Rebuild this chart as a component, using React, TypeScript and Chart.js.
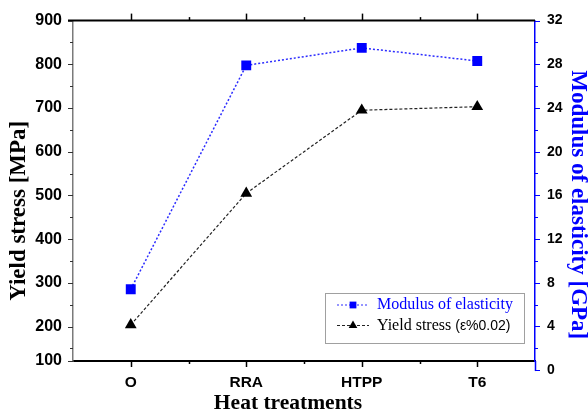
import React, { useEffect, useRef } from 'react';
import { Chart, registerables } from 'chart.js';

Chart.register(...registerables);

// ---- data ----
const CATEGORIES = ['O', 'RRA', 'HTPP', 'T6'];
const MODULUS_GPA = [7.4, 27.9, 29.5, 28.3];
const YIELD_MPA = [204, 505, 695, 703];

// ---- axis ticks ----
const YIELD_TICKS = [100, 200, 300, 400, 500, 600, 700, 800, 900];
const MODULUS_TICKS = [0, 4, 8, 12, 16, 20, 24, 28, 32];
// the horizontal axis crosses the vertical axes slightly above their zero/100 marks
const YIELD_AXIS_BOTTOM = 121.3;
const YIELD_AXIS_TOP = 900;
const MODULUS_AXIS_BOTTOM = 0.83;
const MODULUS_AXIS_TOP = 32;

const MODULUS_LABEL = 'Modulus of elasticity';
const YIELD_LABEL = 'Yield stress (ε%0.02)';
const X_TITLE = 'Heat treatments';
const Y_TITLE = 'Yield stress [MPa]';
const Y1_TITLE = 'Modulus of elasticity [GPa]';

const BLUE = '#0000ff';
const SANS = '"Liberation Sans", Arial, sans-serif';
const SERIF = '"Liberation Serif", "Times New Roman", serif';

function seg(ctx: CanvasRenderingContext2D, x1: number, y1: number, x2: number, y2: number) {
  ctx.beginPath();
  ctx.moveTo(x1, y1);
  ctx.lineTo(x2, y2);
  ctx.stroke();
}

function drawMarker(ctx: CanvasRenderingContext2D, style: string, cx: number, cy: number, r: number, color: string) {
  ctx.fillStyle = color;
  ctx.beginPath();
  if (style === 'triangle') {
    ctx.moveTo(cx, cy - r);
    ctx.lineTo(cx + r * 0.866, cy + r * 0.5);
    ctx.lineTo(cx - r * 0.866, cy + r * 0.5);
    ctx.closePath();
  } else {
    const s = r * Math.SQRT1_2;
    ctx.rect(cx - s, cy - s, 2 * s, 2 * s);
  }
  ctx.fill();
}

const framePlugin = {
  id: 'frameDecor',
  afterDraw(chart: any) {
    const { ctx, chartArea: ca, scales } = chart;
    const xs = scales.x;
    const ys = scales.y;
    const y1s = scales.y1;
    ctx.save();

    // top frame line
    ctx.strokeStyle = '#000';
    ctx.lineWidth = 2;
    seg(ctx, ca.left - 5, ca.top, ca.right, ca.top);

    // category ticks (bottom and top)
    ctx.lineWidth = 1.5;
    const n = CATEGORIES.length;
    for (let i = 0; i < n; i++) {
      const px = Math.round(xs.getPixelForValue(i)) + 0.5;
      seg(ctx, px, ca.bottom, px, ca.bottom + 6);
      seg(ctx, px, ca.top, px, ca.top - 7);
    }
    for (let i = 1; i < n; i++) {
      const px = Math.round((xs.getPixelForValue(i - 1) + xs.getPixelForValue(i)) / 2) + 0.5;
      seg(ctx, px, ca.bottom, px, ca.bottom + 3);
      seg(ctx, px, ca.top, px, ca.top - 3.5);
    }

    // left axis ticks
    ctx.strokeStyle = '#333';
    ctx.lineWidth = 1;
    YIELD_TICKS.forEach((v) => {
      const py = Math.round(ys.getPixelForValue(Math.max(v, ys.min))) + 0.5;
      seg(ctx, ca.left - 5, py, ca.left, py);
    });
    for (let k = 0; k < YIELD_TICKS.length - 1; k++) {
      const mid = (YIELD_TICKS[k] + YIELD_TICKS[k + 1]) / 2;
      const py = Math.round(ys.getPixelForValue(mid)) + 0.5;
      seg(ctx, ca.left - 3, py, ca.left, py);
    }

    // right axis: extension down to its zero mark, ticks
    ctx.strokeStyle = BLUE;
    ctx.lineWidth = 1.5;
    const zeroPx = y1s.getPixelForValue(MODULUS_TICKS[0]);
    seg(ctx, ca.right + 0.5, ca.bottom, ca.right + 0.5, zeroPx + 1);
    ctx.lineWidth = 1;
    MODULUS_TICKS.forEach((v) => {
      const py = Math.round(y1s.getPixelForValue(v)) + 0.5;
      seg(ctx, ca.right, py, ca.right + 5, py);
    });
    for (let k = 0; k < MODULUS_TICKS.length - 1; k++) {
      const mid = (MODULUS_TICKS[k] + MODULUS_TICKS[k + 1]) / 2;
      const py = Math.round(y1s.getPixelForValue(mid)) + 0.5;
      seg(ctx, ca.right, py, ca.right + 3, py);
    }

    // legend box
    const boxR = ca.right - 11;
    const boxB = ca.bottom - 18;
    const boxW = 199;
    const boxH = 50;
    const boxL = boxR - boxW;
    const boxT = boxB - boxH;
    ctx.fillStyle = '#fff';
    ctx.fillRect(boxL, boxT, boxW, boxH);
    ctx.strokeStyle = '#a0a0a0';
    ctx.lineWidth = 1;
    ctx.strokeRect(Math.round(boxL) + 0.5, Math.round(boxT) + 0.5, boxW, boxH);

    chart.data.datasets.forEach((ds: any, i: number) => {
      const cy = boxT + 12 + i * 20.5;
      const lx1 = boxL + 12;
      const lx2 = boxL + 44;
      ctx.strokeStyle = ds.borderColor;
      ctx.lineWidth = 1;
      ctx.setLineDash(ds.borderDash || []);
      seg(ctx, lx1, cy, lx2, cy);
      ctx.setLineDash([]);
      drawMarker(ctx, ds.pointStyle, (lx1 + lx2) / 2, cy, ds.pointStyle === 'triangle' ? 5 : 4.8, ds.pointBackgroundColor);
      const label: string = ds.label;
      const tx = boxL + 52;
      ctx.textBaseline = 'middle';
      ctx.textAlign = 'left';
      ctx.fillStyle = ds.legendTextColor || '#000';
      const cut = label.indexOf('(');
      const main = cut >= 0 ? label.slice(0, cut) : label;
      ctx.font = `16px ${SERIF}`;
      ctx.fillText(main, tx, cy);
      if (cut >= 0) {
        const w = ctx.measureText(main).width;
        ctx.font = `14px ${SANS}`;
        ctx.fillText(label.slice(cut), tx + w, cy + 0.5);
      }
    });

    // axis titles
    const midY = (ca.top + ca.bottom) / 2;
    ctx.fillStyle = '#000';
    ctx.font = `bold 23px ${SERIF}`;
    ctx.textAlign = 'center';
    ctx.textBaseline = 'middle';
    ctx.save();
    ctx.translate(19, midY + 20);
    ctx.rotate(-Math.PI / 2);
    ctx.fillText(Y_TITLE, 0, 0);
    ctx.restore();

    ctx.save();
    ctx.fillStyle = BLUE;
    ctx.translate(chart.width - 10.5, midY + 14);
    ctx.rotate(Math.PI / 2);
    ctx.fillText(Y1_TITLE, 0, 0);
    ctx.restore();

    ctx.font = `bold 21.5px ${SERIF}`;
    ctx.fillText(X_TITLE, (ca.left + ca.right) / 2 - 16, ca.bottom + 42);

    ctx.restore();
  },
};

export default function App() {
  const canvasRef = useRef<HTMLCanvasElement | null>(null);

  useEffect(() => {
    const canvas = canvasRef.current;
    if (!canvas) return;

    const chart = new Chart(canvas, {
      type: 'line',
      data: {
        labels: CATEGORIES,
        datasets: [
          {
            label: MODULUS_LABEL,
            data: MODULUS_GPA,
            yAxisID: 'y1',
            borderColor: 'rgba(20,20,255,0.9)',
            borderWidth: 1.5,
            borderDash: [2, 2],
            pointStyle: 'rect',
            pointRadius: 7,
            pointHoverRadius: 7,
            pointBackgroundColor: BLUE,
            pointBorderColor: BLUE,
            pointBorderWidth: 0,
            fill: false,
            tension: 0,
            legendTextColor: BLUE,
          } as any,
          {
            label: YIELD_LABEL,
            data: YIELD_MPA,
            yAxisID: 'y',
            borderColor: '#222',
            borderWidth: 1.2,
            borderDash: [3, 2],
            pointStyle: 'triangle',
            pointRadius: 6.8,
            pointHoverRadius: 6.8,
            pointBackgroundColor: '#000',
            pointBorderColor: '#000',
            pointBorderWidth: 0,
            fill: false,
            tension: 0,
            legendTextColor: '#000',
          } as any,
        ],
      },
      options: {
        responsive: false,
        animation: false,
        devicePixelRatio: 1,
        layout: { padding: { top: 15, left: 0, right: 0, bottom: 0 } },
        plugins: {
          legend: { display: false },
          tooltip: { enabled: false },
          title: { display: false },
        },
        scales: {
          x: {
            type: 'category',
            offset: true,
            grid: { display: false, drawTicks: false },
            border: { display: true, color: '#000', width: 2 },
            ticks: { font: { family: SANS, size: 15.5, weight: 'bold' }, color: '#000', padding: 12, maxRotation: 0 },
            afterFit: (s: any) => {
              s.height = 55;
            },
          },
          y: {
            type: 'linear',
            position: 'left',
            min: YIELD_AXIS_BOTTOM,
            max: YIELD_AXIS_TOP,
            grid: { display: false, drawTicks: false },
            border: { display: true, color: '#7a7a7a', width: 1.5 },
            ticks: {
              font: { family: SANS, size: 16, weight: 'bold' },
              color: '#000',
              padding: 11,
              callback: (_v: any, i: number) => String(YIELD_TICKS[i]),
            },
            afterBuildTicks: (s: any) => {
              s.ticks = YIELD_TICKS.map((v) => ({ value: Math.max(v, YIELD_AXIS_BOTTOM) }));
            },
            afterFit: (s: any) => {
              s.width = 73;
            },
          },
          y1: {
            type: 'linear',
            position: 'right',
            min: MODULUS_AXIS_BOTTOM,
            max: MODULUS_AXIS_TOP,
            grid: { display: false, drawTicks: false },
            border: { display: true, color: BLUE, width: 1.5 },
            ticks: {
              font: { family: SANS, size: 14, weight: 'bold' },
              color: '#000',
              padding: 12,
              callback: (_v: any, i: number) => String(MODULUS_TICKS[i]),
            },
            afterBuildTicks: (s: any) => {
              s.ticks = MODULUS_TICKS.map((v) => ({ value: v }));
            },
            afterFit: (s: any) => {
              s.width = 53;
            },
          },
        },
      },
      plugins: [framePlugin],
    });

    return () => chart.destroy();
  }, []);

  return (
    <div style={{ position: 'absolute', left: 0, top: 0, width: 588, height: 416, background: '#fff' }}>
      <canvas ref={canvasRef} width={588} height={416} />
    </div>
  );
}
